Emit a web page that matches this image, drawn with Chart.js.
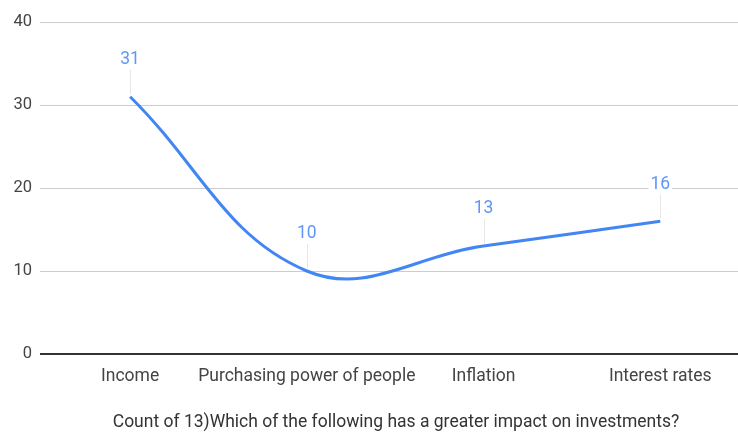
<!DOCTYPE html>
<html>
<head>
<meta charset="utf-8">
<script src="https://cdn.jsdelivr.net/npm/chart.js@4"></script>
<style>
html,body{margin:0;padding:0;background:#fff;overflow:hidden}
#wrap{width:738px;height:436px;position:relative}
</style>
</head>
<body>
<div id="wrap"><canvas id="c"></canvas></div>
<script>
const categories = ["Income", "Purchasing power of people", "Inflation", "Interest rates"];
const counts = [31, 10, 13, 16];
const yTicks = [0, 10, 20, 30, 40];
const axisTitle = "Count of 13)Which of the following has a greater impact on investments?";

const FONT = "Roboto";

const labelPlugin = {
  id: 'valueLabels',
  afterDatasetsDraw(chart) {
    const ctx = chart.ctx;
    const meta = chart.getDatasetMeta(0);
    ctx.save();
    ctx.font = "17.5px " + FONT;
    ctx.textAlign = 'center';
    ctx.textBaseline = 'middle';
    meta.data.forEach((pt, i) => {
      const txt = String(counts[i]);
      const ly = pt.y - 37;
      const w = ctx.measureText(txt).width;
      ctx.fillStyle = '#fff';
      ctx.fillRect(pt.x - w/2 - 2, ly - 9, w + 4, 18);
      ctx.strokeStyle = '#e6e6e6';
      ctx.lineWidth = 1;
      ctx.beginPath();
      ctx.moveTo(Math.round(pt.x) + 0.5, pt.y - 3);
      ctx.lineTo(Math.round(pt.x) + 0.5, ly + 10);
      ctx.stroke();
      ctx.fillStyle = '#5e97f6';
      ctx.fillText(txt, pt.x, ly);
    });
    ctx.restore();
  },
  afterDraw(chart) {
    const ctx = chart.ctx;
    ctx.save();
    ctx.font = "17.5px " + FONT;
    ctx.fillStyle = '#333';
    ctx.textAlign = 'center';
    ctx.textBaseline = 'middle';
    ctx.fillText(axisTitle, 396, 423);
    ctx.restore();
  }
};

new Chart(document.getElementById('c'), {
  type: 'line',
  data: {
    datasets: [{
      data: counts.map((v, i) => ({x: i, y: v})),
      borderColor: '#4285f4',
      borderWidth: 3,
      pointRadius: 0,
      tension: 0.4,
      fill: false
    }]
  },
  options: {
    responsive: true,
    maintainAspectRatio: false,
    animation: false,
    layout: {padding: {top: 22, right: 0, left: 0, bottom: 0}},
    plugins: {legend: {display: false}, tooltip: {enabled: false}},
    scales: {
      x: {
        type: 'linear',
        min: -0.51,
        max: 3.44,
        afterBuildTicks(scale) { scale.ticks = categories.map((_, i) => ({value: i})); },
        afterFit(scale) { scale.height = 82; },
        grid: {display: false, drawTicks: false},
        border: {display: false},
        ticks: {
          autoSkip: false,
          maxRotation: 0,
          padding: 12,
          color: '#444',
          font: {family: FONT, size: 17.5},
          callback: (v) => categories[v]
        }
      },
      y: {
        min: 0,
        max: 40,
        afterBuildTicks(scale) { scale.ticks = yTicks.map(v => ({value: v})); },
        afterFit(scale) { scale.width = 40; },
        grid: {
          color: (c) => c.tick && c.tick.value === 0 ? '#333' : '#cccccc',
          lineWidth: (c) => c.tick && c.tick.value === 0 ? 2 : 1,
          drawTicks: false
        },
        border: {display: false},
        ticks: {
          padding: 8,
          color: '#444',
          font: {family: FONT, size: 16.5}
        }
      }
    }
  },
  plugins: [labelPlugin]
});
</script>
</body>
</html>
